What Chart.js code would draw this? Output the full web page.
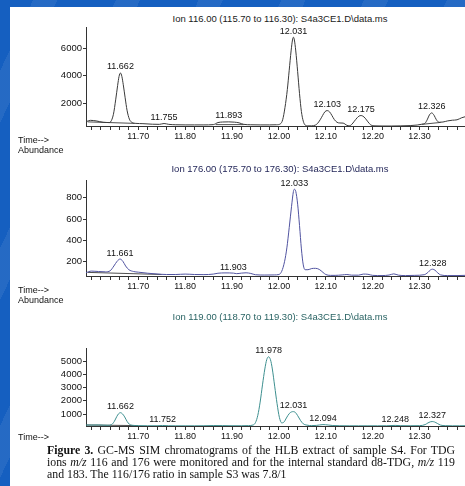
<!DOCTYPE html>
<html>
<head>
<meta charset="utf-8">
<script src="https://cdn.jsdelivr.net/npm/chart.js@4/dist/chart.umd.min.js"></script>
<style>
  html, body { margin: 0; padding: 0; }
  body {
    width: 465px; height: 486px; overflow: hidden; position: relative;
    background-color: #155fc0;
    background-image: repeating-linear-gradient(115deg,
      rgba(255,255,255,0) 0px, rgba(255,255,255,0) 30px,
      rgba(255,255,255,0.07) 30px, rgba(255,255,255,0.07) 52px,
      rgba(255,255,255,0) 52px, rgba(255,255,255,0) 75px);
    font-family: "Liberation Sans", Arial, sans-serif;
  }
  #sheet { position: absolute; left: 10px; top: 7px; width: 455px; height: 479px; background: #fff; }
  canvas.cv { position: absolute; left: 0; }
  .ttl { position: absolute; left: 150px; width: 260px; text-align: center; font-size: 9.5px; line-height: 10px; white-space: nowrap; }
  .side { position: absolute; left: 18px; font-size: 9px; line-height: 10px; color: #111; white-space: nowrap; }
  .cap { position: absolute; left: 47px; width: 408px; font-family: "Liberation Serif", "Times New Roman", serif;
         font-size: 11.8px; line-height: 12px; color: #111; white-space: nowrap; }
  .j { text-align: justify; text-align-last: justify; }
  .cap i { font-style: italic; }
</style>
</head>
<body>
<div id="sheet"></div>

<div class="ttl" style="top:14px;color:#1a1a1a">Ion 116.00 (115.70 to 116.30): S4a3CE1.D\data.ms</div>
<canvas class="cv" id="c116" width="465" height="123" style="top:19px"></canvas>
<div class="side" style="top:135px">Time--&gt;</div>
<div class="side" style="top:145px">Abundance</div>

<div class="ttl" style="top:164px;color:#25285a">Ion 176.00 (175.70 to 176.30): S4a3CE1.D\data.ms</div>
<canvas class="cv" id="c176" width="465" height="120" style="top:172px"></canvas>
<div class="side" style="top:285px">Time--&gt;</div>
<div class="side" style="top:295px">Abundance</div>

<div class="ttl" style="top:312px;color:#2a6464">Ion 119.00 (118.70 to 119.30): S4a3CE1.D\data.ms</div>
<canvas class="cv" id="c119" width="465" height="102" style="top:340px"></canvas>
<div class="side" style="top:432px">Time--&gt;</div>

<div class="cap j" style="top:444px"><b>Figure 3.</b> GC-MS SIM chromatograms of the HLB extract of sample S4. For TDG</div>
<div class="cap j" style="top:456px">ions <i>m/z</i> 116 and 176 were monitored and for the internal standard d8-TDG, <i>m/z</i> 119</div>
<div class="cap" style="top:468px">and 183. The 116/176 ratio in sample S3 was 7.8/1</div>

<script>
// Retention time axis
const xTickLabels = ['11.70', '11.80', '11.90', '12.00', '12.10', '12.20', '12.30'];
const X_MIN = 11.5885, X_MAX = 12.397;

// Ion 116 trace (time, abundance)
const t116 = [11.5885, 11.598, 11.61, 11.625, 11.638, 11.641, 11.647, 11.652, 11.656, 11.659, 11.662, 11.665, 11.668, 11.672,
  11.676, 11.681, 11.687, 11.695, 11.71, 11.73, 11.745, 11.755, 11.765, 11.78, 11.80, 11.82, 11.84, 11.86, 11.87, 11.88, 11.893,
  11.905, 11.915, 11.925, 11.94, 11.96, 11.98, 11.995, 12.003, 12.008, 12.013, 12.018, 12.022, 12.026, 12.029, 12.031, 12.033,
  12.036, 12.040, 12.044, 12.048, 12.052, 12.056, 12.062, 12.070, 12.078, 12.082, 12.088, 12.093, 12.098, 12.103, 12.108, 12.113,
  12.118, 12.124, 12.13, 12.137, 12.145, 12.150, 12.155, 12.161, 12.167, 12.171, 12.175, 12.179, 12.184, 12.19, 12.196, 12.205,
  12.22, 12.24, 12.26, 12.28, 12.295, 12.305, 12.312, 12.317, 12.321, 12.326, 12.331, 12.336, 12.342, 12.35, 12.36, 12.37, 12.38,
  12.39, 12.397];
const a116 = [660, 760, 720, 620, 600, 650, 1200, 2300, 3300, 3950, 4200, 3950, 3350, 2400,
  1500, 850, 600, 540, 520, 480, 470, 530, 470, 440, 430, 430, 430, 450, 600, 640, 650,
  630, 580, 470, 440, 430, 430, 440, 500, 800, 1700, 3000, 4400, 5800, 6600, 6800, 6600,
  5800, 4300, 2700, 1400, 700, 420, 360, 360, 420, 520, 800, 1100, 1380, 1470, 1380, 1120,
  830, 620, 570, 560, 400, 360, 450, 700, 950, 1070, 1110, 1070, 920, 650, 430, 360,
  350, 350, 360, 380, 420, 480, 560, 850, 1150, 1300, 1130, 800, 620, 640, 720, 770, 800,
  950, 1020];
const peaks116 = ['11.662', '11.755', '11.893', '12.031', '12.103', '12.175', '12.326'];
const yTicks116 = ['2000', '4000', '6000'];
// integration baselines under ion 116 peaks
const base116t = [11.592, 11.692, null, 11.865, 11.925, null, 12.305, 12.345];
const base116a = [650, 540, null, 450, 450, null, 470, 610];

// Ion 176 trace
const t176 = [11.5885, 11.60, 11.615, 11.63, 11.64, 11.648, 11.655, 11.661, 11.667, 11.673, 11.68, 11.69, 11.70, 11.72,
  11.74, 11.76, 11.78, 11.80, 11.82, 11.84, 11.86, 11.87, 11.885, 11.903, 11.91, 11.92, 11.93, 11.94, 11.95, 11.97, 11.99,
  12.00, 12.006, 12.012, 12.017, 12.022, 12.027, 12.031, 12.033, 12.036, 12.040, 12.044, 12.048, 12.052, 12.056, 12.062,
  12.07, 12.078, 12.086, 12.094, 12.10, 12.11, 12.12, 12.135, 12.145, 12.155, 12.17, 12.18, 12.19, 12.20, 12.22, 12.235,
  12.245, 12.255, 12.27, 12.29, 12.31, 12.318, 12.323, 12.328, 12.333, 12.339, 12.345, 12.36, 12.38, 12.397];
const a176 = [97, 112, 108, 105, 115, 160, 205, 225, 205, 160, 125, 108, 102, 92,
  85, 80, 80, 84, 80, 79, 84, 92, 95, 93, 88, 93, 96, 90, 78, 75, 76,
  80, 110, 200, 330, 520, 720, 860, 880, 860, 740, 540, 320, 170, 125, 125,
  136, 138, 128, 100, 80, 72, 72, 76, 80, 74, 74, 84, 82, 72, 70, 75,
  86, 74, 70, 72, 78, 100, 122, 130, 120, 95, 76, 70, 70, 72];
const peaks176 = ['11.661', '11.903', '12.033', '12.328'];
const yTicks176 = ['200', '400', '600', '800'];
const base176t = [11.592, 11.75];
const base176a = [100, 80];

// Ion 119 trace (internal standard)
const t119 = [11.5885, 11.60, 11.615, 11.625, 11.635, 11.643, 11.649, 11.654, 11.658, 11.662, 11.666, 11.671, 11.676, 11.681,
  11.687, 11.70, 11.72, 11.74, 11.752, 11.765, 11.78, 11.80, 11.82, 11.84, 11.86, 11.88, 11.90, 11.92, 11.935, 11.945, 11.95,
  11.955, 11.96, 11.965, 11.97, 11.974, 11.978, 11.982, 11.986, 11.991, 11.996, 12.001, 12.006, 12.011, 12.016, 12.022, 12.027,
  12.031, 12.035, 12.040, 12.046, 12.052, 12.06, 12.07, 12.08, 12.094, 12.105, 12.115, 12.13, 12.15, 12.17, 12.19, 12.21, 12.23,
  12.248, 12.26, 12.28, 12.30, 12.312, 12.318, 12.323, 12.327, 12.332, 12.338, 12.345, 12.355, 12.37, 12.385, 12.397];
const a119 = [170, 165, 175, 160, 150, 200, 450, 800, 1020, 1100, 1020, 780, 450, 230,
  150, 125, 115, 115, 135, 115, 110, 110, 110, 115, 130, 125, 115, 115, 125, 170, 350,
  900, 1900, 3200, 4400, 5100, 5320, 5100, 4400, 3100, 1800, 750, 330, 400, 700, 1030, 1160,
  1180, 1120, 880, 520, 260, 160, 125, 140, 200, 170, 130, 115, 110, 110, 110, 110, 115,
  140, 120, 115, 120, 200, 330, 410, 430, 400, 290, 160, 120, 110, 110, 115];
const peaks119 = ['11.662', '11.752', '11.978', '12.031', '12.094', '12.248', '12.327'];
const yTicks119 = ['1000', '2000', '3000', '4000', '5000'];
const base119t = [11.59, 11.70];
const base119a = [170, 125];

// minor tick marks every 0.02 min along the time axis
const xMinorTicks = [];
for (let k = 0; k <= 39; k++) xMinorTicks.push(+(11.60 + k * 0.02).toFixed(2));

const FONT = '"Liberation Sans", Arial, sans-serif';
Chart.defaults.font.family = FONT;

function pts(ts, vs) {
  return ts.map((t, i) => ({ x: t === null ? X_MIN : t, y: vs[i] }));
}

function drawPanel(id, times, values, peaks, yTicks, yMin, yMax, color, bt, ba) {
  const labelPlugin = {
    id: 'peakLabels_' + id,
    afterDatasetsDraw(chart) {
      const { ctx, scales: { x, y } } = chart;
      ctx.save();
      ctx.font = '9px ' + FONT;
      ctx.fillStyle = '#111';
      ctx.textAlign = 'center';
      ctx.textBaseline = 'middle';
      peaks.forEach(lbl => {
        const t = parseFloat(lbl);
        const i = times.findIndex(v => Math.abs(v - t) < 1e-6);
        ctx.fillText(lbl, x.getPixelForValue(t), y.getPixelForValue(values[i]) - 6);
      });
      ctx.restore();
    }
  };
  new Chart(document.getElementById(id), {
    type: 'line',
    data: {
      datasets: [
        {
          data: pts(times, values), borderColor: color, borderWidth: 1,
          pointRadius: 0, fill: false, cubicInterpolationMode: 'monotone'
        },
        {
          data: pts(bt, ba), borderColor: '#222', borderWidth: 0.8,
          pointRadius: 0, fill: false, spanGaps: false
        }
      ]
    },
    options: {
      responsive: false, animation: false, events: [], devicePixelRatio: 1,
      layout: { padding: { top: 8, left: 0, right: 0, bottom: 0 } },
      plugins: { legend: { display: false }, tooltip: { enabled: false } },
      scales: {
        x: {
          type: 'linear', min: X_MIN, max: X_MAX,
          afterBuildTicks: s => { s.ticks = xMinorTicks.map(v => ({ value: v })); },
          afterFit: s => { s.height = 16; },
          ticks: {
            autoSkip: false, maxRotation: 0, minRotation: 0, padding: 1, color: '#111',
            font: { size: 9 },
            callback: v => { const s = Number(v).toFixed(2); return xTickLabels.includes(s) ? s : ''; }
          },
          grid: { drawOnChartArea: false, drawTicks: true, tickLength: 4, color: '#333', lineWidth: 1 },
          border: { display: true, color: '#333', width: 1 }
        },
        y: {
          type: 'linear', min: yMin, max: yMax,
          afterBuildTicks: s => { s.ticks = yTicks.map(v => ({ value: Number(v) })); },
          afterFit: s => { s.width = 86; },
          ticks: { padding: 1, color: '#111', font: { size: 9.5 }, callback: v => String(v) },
          grid: { drawOnChartArea: false, drawTicks: true, tickLength: 3, color: '#333', lineWidth: 1 },
          border: { display: true, color: '#333', width: 1 }
        }
      }
    },
    plugins: [labelPlugin]
  });
}

drawPanel('c116', t116, a116, peaks116, yTicks116, 350, 7540, '#3a3a3a', base116t, base116a);
drawPanel('c176', t176, a176, peaks176, yTicks176, 66, 967, '#5053a0', base176t, base176a);
drawPanel('c119', t119, a119, peaks119, yTicks119, 95, 5983, '#3d8f8f', base119t, base119a);
</script>
</body>
</html>
